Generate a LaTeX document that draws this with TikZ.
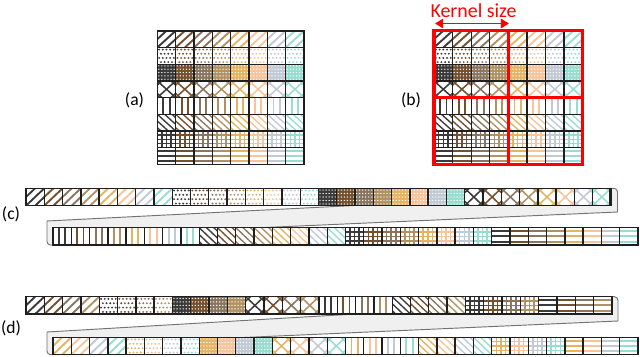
\documentclass[tikz,border=0pt]{standalone}
\usepackage{fontspec}
\setmainfont{Carlito}
\usepackage{tikz}
\usetikzlibrary{arrows.meta}

\definecolor{pc1}{HTML}{3A3A3A}
\definecolor{pc2}{HTML}{74502F}
\definecolor{pc3}{HTML}{8A7660}
\definecolor{pc4}{HTML}{B09264}
\definecolor{pc5}{HTML}{E4B462}
\definecolor{pc6}{HTML}{F8C49C}
\definecolor{pc7}{HTML}{C2CAD6}
\definecolor{pc8}{HTML}{98DDD0}

\tikzset{
  cellline/.style={black!88,line width=1.15pt},
  stripline/.style={black!88,line width=1.3pt},
  band/.style={fill=black!6,draw=black!55,line width=0.8pt},
  lab/.style={font=\fontsize{15}{17}\selectfont}
}

\newcommand{\cellpat}[2]{%
  \ifcase#1\or
    \foreach \a in {-0.5,0,0.5}{\draw[#2,line width=1.6pt] (\a,1) -- (\a+1,0);}%
  \or
    \foreach \j in {0,...,3}{\foreach \i in {0,...,4}{\fill[#2] ({0.1+0.2*\i+0.1*mod(\j,2)},{0.125+0.25*\j}) circle[radius=0.06];}}%
  \or
    \fill[#2] (0,0) rectangle (1,1);
    \foreach \j in {0,...,4}{\foreach \i in {0,...,5}{\fill[white] ({(\i+0.5)/6},{(\j+0.5)/5}) circle[radius=0.04];}}%
  \or
    \foreach \a in {-0.75,0,0.75}{\draw[#2,line width=1.3pt] (\a,1) -- (\a+1,0) (\a,0) -- (\a+1,1);}%
  \or
    \foreach \a in {0.33,0.67}{\draw[#2,line width=1.6pt] (\a,0) -- (\a,1);}%
  \or
    \foreach \a in {-0.8,-0.4,0,0.4,0.8}{\draw[#2,line width=1.15pt] (\a,0) -- (\a+1,1);}%
  \or
    \foreach \a in {0.25,0.5,0.75}{\draw[#2,line width=1.3pt] (\a,0) -- (\a,1) (0,\a) -- (1,\a);}%
  \or
    \foreach \a in {0.2,0.5,0.8}{\draw[#2,line width=1.6pt] (0,\a) -- (1,\a);}%
  \fi}

\newcommand{\pcell}[6]{%
  \begin{scope}[shift={({#1},{#2})},xscale=#3,yscale=#4]
    \colorlet{cur}{#6}%
    \fill[white] (0,0) rectangle (1,1);
    \begin{scope}
      \clip (0,0) rectangle (1,1);
      \cellpat{#5}{cur}
    \end{scope}
    \draw[cellline] (0,0) rectangle (1,1);
  \end{scope}}

\begin{document}
\begin{tikzpicture}[x=0.03cm,y=-0.03cm]
\useasboundingbox (0,0) rectangle (640,356);

\foreach \r in {1,...,8}{\foreach \c in {1,...,8}{
  \pcell{157.3+(\c-1)*18.35}{30.8+(\r-1)*16.7}{18.35}{16.7}{\r}{pc\c}
  \pcell{434+(\c-1)*18.59}{30.8+(\r-1)*16.7}{18.59}{16.7}{\r}{pc\c}
}}
\draw[stripline] (157.3,30.8) rectangle (304.1,164.4);
\draw[red,line width=2.6pt] (434,30.8) rectangle (582.7,164.4) (508.4,30.8) -- (508.4,164.4) (434,97.6) -- (582.7,97.6);

\node[red,font=\fontsize{17}{19}\selectfont] (ks) at (473.5,10.5) {Kernel size};
\coordinate (kl) at (435,23.5);
\coordinate (kr) at (509,23.5);
\draw[red,line width=1.7pt,{Triangle[length=7pt,width=8pt]}-{Triangle[length=7pt,width=8pt]}] (kl) -- (kr);

\node[lab] (la) at (134.5,100) {(a)};
\node[lab] (lb) at (411,100) {(b)};
\node[lab] (lc) at (11,214) {(c)};
\node[lab] (ld) at (11,328) {(d)};

\filldraw[band] (47,221) -- (610,192.6) -- (610,188.3) -- (614,188.3) to[out=0,in=90] (617.5,192) -- (617.5,212) -- (53,236.8) -- (53,245) -- (50.5,245) to[out=180,in=-90] (47,241.5) -- cycle;
\filldraw[band] (47,332) -- (612,299) -- (612,296.7) -- (614.5,296.7) to[out=0,in=90] (618,300.5) -- (618,321) -- (53,345.9) -- (53,354.7) -- (50.5,354.7) to[out=180,in=-90] (47,351) -- cycle;

\foreach \r in {1,...,4}{\foreach \c in {1,...,8}{
  \pcell{26+((\r-1)*8+\c-1)*18.28}{188.3}{18.28}{17.4}{\r}{pc\c}
}}
\foreach \r in {5,...,8}{\foreach \c in {1,...,8}{
  \pcell{53+((\r-5)*8+\c-1)*18.28}{227.7}{18.28}{17.4}{\r}{pc\c}
}}
\foreach \r in {1,...,8}{\foreach \c in {1,...,4}{
  \pcell{26+((\r-1)*4+\c-1)*18.31}{296.7}{18.31}{17.4}{\r}{pc\c}
}}
\foreach \r in {1,...,8}{\foreach \c in {5,...,8}{
  \pcell{53+((\r-1)*4+\c-5)*18.28}{337.3}{18.28}{17.4}{\r}{pc\c}
}}
\draw[stripline] (26,188.3) rectangle (610,205.7) (53,227.7) rectangle (638,245.1);
\draw[stripline] (26,296.7) rectangle (612,314.1) (53,337.3) rectangle (638,354.7);
\end{tikzpicture}
\end{document}
